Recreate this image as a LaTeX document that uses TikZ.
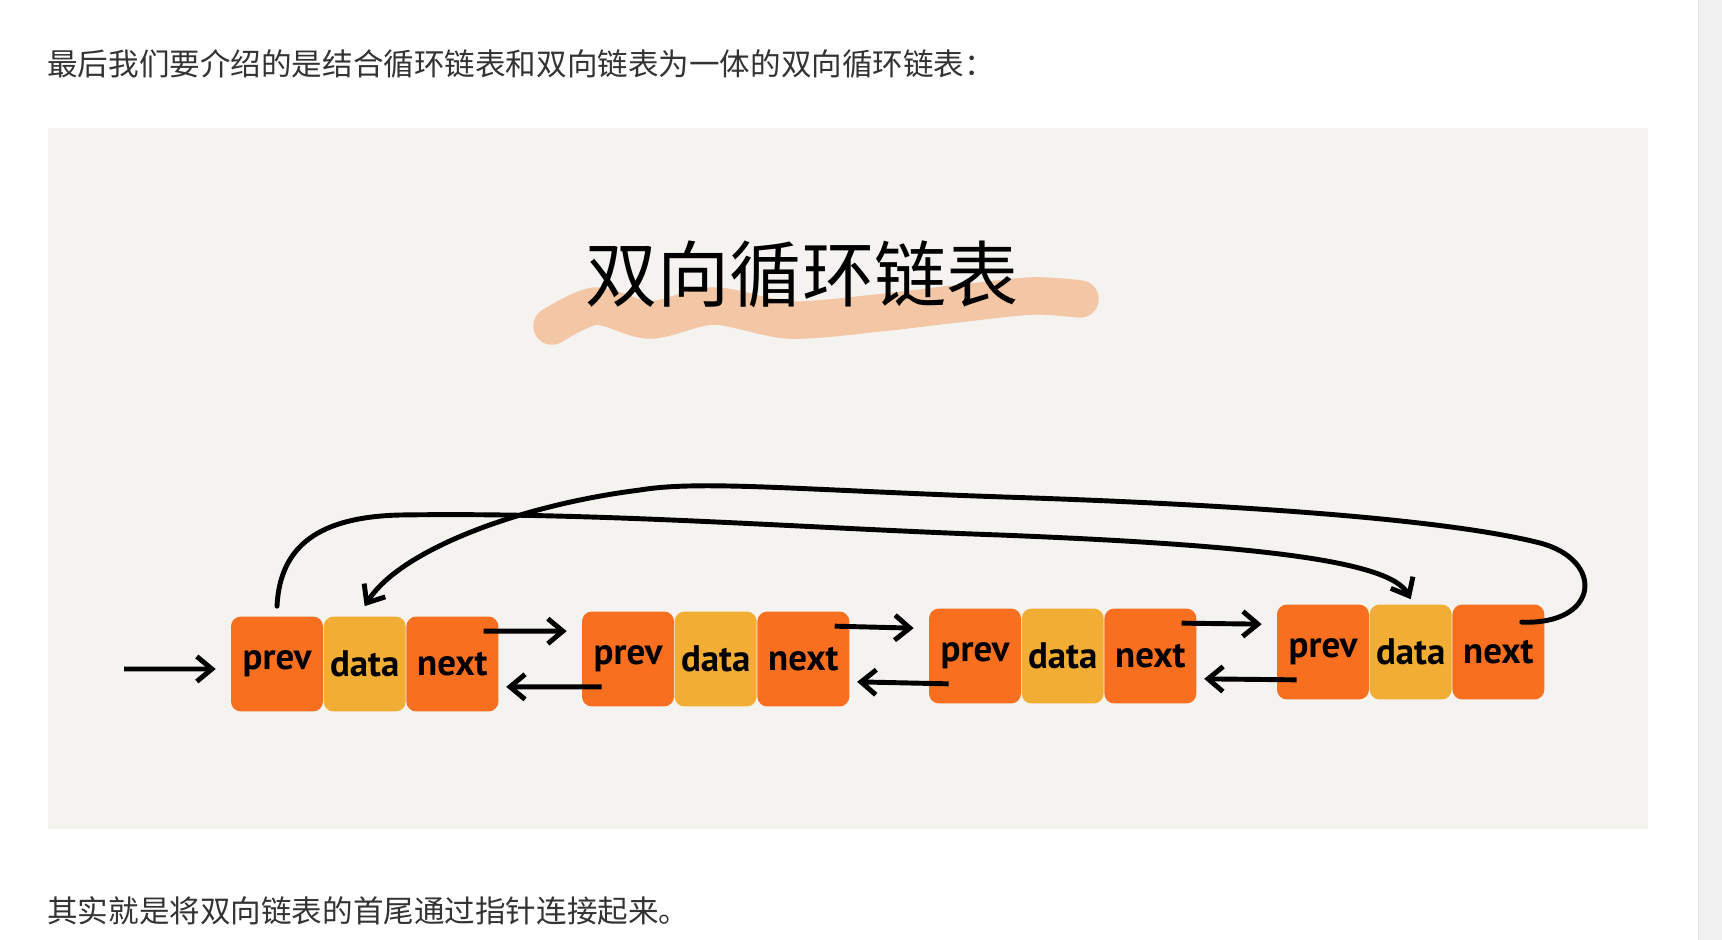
\documentclass[tikz,border=0pt]{standalone}
\usepackage{fontspec}
\newfontfamily\cjk{Noto Sans CJK SC}
\newfontfamily\hand{PT Sans}
\usetikzlibrary{positioning,arrows.meta}
\definecolor{panelgray}{HTML}{F4F3EF}
\definecolor{cellorange}{HTML}{F8701F}
\definecolor{cellyellow}{HTML}{F2AE34}
\definecolor{brushpeach}{HTML}{F3BF99}
\definecolor{textgray}{HTML}{333333}
\definecolor{barlight}{HTML}{F1F1F1}
\definecolor{baredge}{HTML}{E4E4E4}

\begin{document}
\begin{tikzpicture}[x=0.02cm,y=-0.02cm,
        cell/.style={fill=cellorange,minimum width=1.84cm,minimum height=1.9cm,rounded corners=2mm,inner sep=0pt,font=\hand\bfseries\fontsize{21}{21}\selectfont},
        datacell/.style={cell,fill=cellyellow,minimum width=1.64cm},
        para/.style={anchor=west,inner sep=0pt,text=textgray,font=\cjk\fontsize{17.4}{20}\selectfont},
        ptr/.style={line width=2.8pt,-{Straight Barb[length=3mm,width=5mm]}},
        wrap/.style={ptr,line cap=round},
        brush/.style={draw=brushpeach,line width=7.5mm,line cap=round,line join=round,opacity=0.85},
    ]

    \useasboundingbox (0,0) rectangle (1722,940);
    \fill[white] (0,0) rectangle (1722,940);
    \fill[barlight] (1698,0) rectangle (1722,940);
    \draw[baredge] (1698,0) -- (1698,940);
    \fill[panelgray] (48,128) rectangle (1648,829);

    \node[para] (intro) at (47,64) {最后我们要介绍的是结合循环链表和双向链表为一体的双向循环链表：};
    \node[para] (outro) at (47,911) {其实就是将双向链表的首尾通过指针连接起来。};

    % title with brush stroke
    \draw[brush] plot[smooth] coordinates {(552,326) (596,306) (650,320) (714,306) (790,320) (878,313) (955,304) (1032,296) (1080,299)};
    \node[font=\cjk\fontsize{41}{43}\selectfont] (title) at (802,274) {双向循环链表};

    % nodes
    \node[cell] (p1) at (277,664) {prev};
    \node[datacell,right=0pt of p1] (d1) {data};
    \node[cell,right=0pt of d1] (n1) {next};

    \node[cell] (p2) at (628,659) {prev};
    \node[datacell,right=0pt of p2] (d2) {data};
    \node[cell,right=0pt of d2] (n2) {next};

    \node[cell] (p3) at (975,656) {prev};
    \node[datacell,right=0pt of p3] (d3) {data};
    \node[cell,right=0pt of d3] (n3) {next};

    \node[cell] (p4) at (1323,652) {prev};
    \node[datacell,right=0pt of p4] (d4) {data};
    \node[cell,right=0pt of d4] (n4) {next};

    % head pointer
    \coordinate (head) at (124,669);
    \draw[ptr] (head) -- ([xshift=-3mm,yshift=-1mm]p1.west);

    % next pointers
    \draw[ptr] ([xshift=-3mm,yshift=-3mm]n1.north east) -- ([xshift=-3mm,yshift=-4mm]p2.north west);
    \draw[ptr] ([xshift=-3mm,yshift=-3mm]n2.north east) -- ([xshift=-3mm,yshift=-4mm]p3.north west);
    \draw[ptr] ([xshift=-3mm,yshift=-3mm]n3.north east) -- ([xshift=-3mm,yshift=-4mm]p4.north west);

    % prev pointers
    \draw[ptr] ([xshift=4mm,yshift=4mm]p2.south west) -- ([xshift=1.5mm,yshift=5mm]n1.south east);
    \draw[ptr] ([xshift=4mm,yshift=4mm]p3.south west) -- ([xshift=1.5mm,yshift=5mm]n2.south east);
    \draw[ptr] ([xshift=4mm,yshift=4mm]p4.south west) -- ([xshift=1.5mm,yshift=5mm]n3.south east);

    % head and tail joined
    \draw[wrap] ([yshift=2mm]p1.north) .. controls (280,545) and (320,517) .. (400,515)
        .. controls (600,512) and (800,528) .. (1000,535)
        .. controls (1250,545) and (1390,560) .. ([yshift=1mm]d4.north);
    \draw[wrap] ([xshift=-4.6mm,yshift=-3.6mm]n4.north east) .. controls (1600,625) and (1605,560) .. (1540,543)
        .. controls (1450,520) and (1250,505) .. (1004,497)
        .. controls (800,490) and (700,480) .. (640,490)
        .. controls (520,505) and (400,550) .. ([yshift=2mm]d1.north);
\end{tikzpicture}
\end{document}
